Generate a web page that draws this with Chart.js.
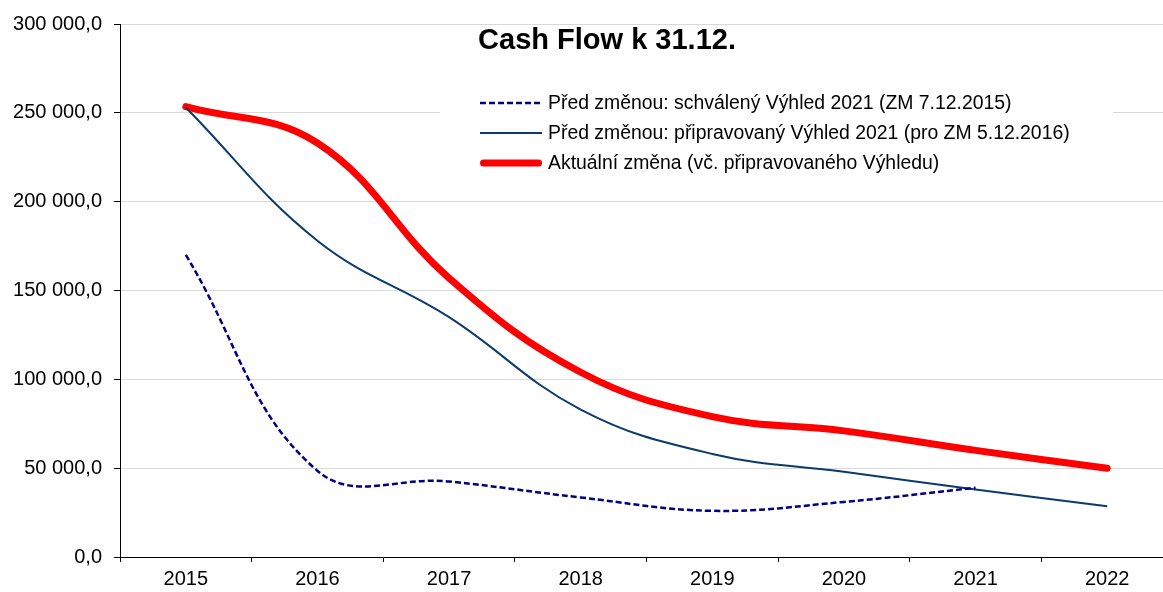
<!DOCTYPE html>
<html>
<head>
<meta charset="utf-8">
<script src="https://cdn.jsdelivr.net/npm/chart.js@4"></script>
<style>
    body { margin: 0; overflow: hidden; background: #fff; }
</style>
</head>
<body>
<canvas id="myChart" width="1173" height="592"></canvas>
<script>
let years = ['2015', '2016', '2017', '2018', '2019', '2020', '2021', '2022'];

// hodnoty v tis. Kč
let schvaleny = [170000, 48500, 42500, 33500, 26000, 31000, 39000, null];
let pripravovany = [253000, 178000, 135000, 83000, 58000, 48000, 38000, 28500];
let aktualni = [253500, 233000, 157000, 104000, 79000, 71000, 60000, 50000];

let yTicks = [0, 50000, 100000, 150000, 200000, 250000, 300000];

const FONT = '"Liberation Sans", Arial, sans-serif';

let formatNum = (v) => {
    return String(Math.round(v)).replace(/\B(?=(\d{3})+(?!\d))/g, ' ') + ',0';
}

// nadpis + legenda uvnitř grafu (bílý box přes mřížku)
let insideLegend = {
    id: 'insideLegend',
    beforeDatasetsDraw(chart) {
        let ctx = chart.ctx;
        ctx.save();
        ctx.fillStyle = '#fff';
        ctx.fillRect(440, 88, 673, 102);

        ctx.fillStyle = '#000';
        ctx.font = 'bold 29px ' + FONT;
        ctx.textAlign = 'center';
        ctx.textBaseline = 'alphabetic';
        ctx.fillText('Cash Flow k 31.12.', 607, 49);

        ctx.font = '19.4px ' + FONT;
        ctx.textAlign = 'left';
        ctx.textBaseline = 'middle';
        chart.data.datasets.forEach((ds, i) => {
            let y = 103 + i * 30;
            ctx.beginPath();
            ctx.strokeStyle = ds.borderColor;
            ctx.lineWidth = ds.borderWidth;
            ctx.lineCap = ds.borderCapStyle || 'butt';
            ctx.setLineDash(ds.borderDash || []);
            let pad = ds.borderCapStyle === 'round' ? ds.borderWidth / 2 : 0;
            ctx.moveTo(480 + pad, y);
            ctx.lineTo(542 - pad, y);
            ctx.stroke();
            ctx.setLineDash([]);
            ctx.fillStyle = '#000';
            ctx.fillText(ds.label, 548, y + 1);
        });
        ctx.restore();
    }
};

let data = {
    labels: years,
    datasets: [{
        label: 'Před změnou: schválený Výhled 2021 (ZM 7.12.2015)',
        data: schvaleny,
        borderColor: '#000080',
        borderWidth: 2.5,
        borderDash: [6, 3],
    }, {
        label: 'Před změnou: připravovaný Výhled 2021 (pro ZM 5.12.2016)',
        data: pripravovany,
        borderColor: '#0b3a6b',
        borderWidth: 2,
    }, {
        label: 'Aktuální změna (vč. připravovaného Výhledu)',
        data: aktualni,
        borderColor: '#ff0000',
        borderWidth: 7,
        borderCapStyle: 'round',
    }]
};

let config = {
    type: 'line',
    data: data,
    options: {
        responsive: false,
        animation: false,
        devicePixelRatio: 1,
        layout: { padding: { top: 21, right: 0, left: 0, bottom: 0 } },
        elements: {
            line: { tension: 0.4, fill: false },
            point: { radius: 0, hoverRadius: 0 }
        },
        plugins: {
            legend: { display: false },
            title: { display: false },
            tooltip: { enabled: false }
        },
        scales: {
            x: {
                offset: true,
                grid: { offset: true, drawOnChartArea: false, tickLength: 5, tickColor: '#000' },
                border: { color: '#000', width: 1 },
                ticks: { color: '#000', font: { size: 20, family: FONT }, maxRotation: 0, padding: 5 },
                afterFit: (s) => { s.height = 35; }
            },
            y: {
                min: 0,
                max: 300000,
                afterBuildTicks: (s) => { s.ticks = yTicks.map(v => ({ value: v })); },
                grid: { color: '#d9d9d9', tickColor: '#000', tickLength: 6 },
                border: { color: '#000', width: 1 },
                ticks: { color: '#000', font: { size: 20, family: FONT }, padding: 12, callback: (v) => formatNum(v) },
                afterFit: (s) => { s.width = 120; }
            }
        }
    },
    plugins: [insideLegend]
};

let myChart = new Chart(document.getElementById('myChart'), config);
</script>
</body>
</html>
